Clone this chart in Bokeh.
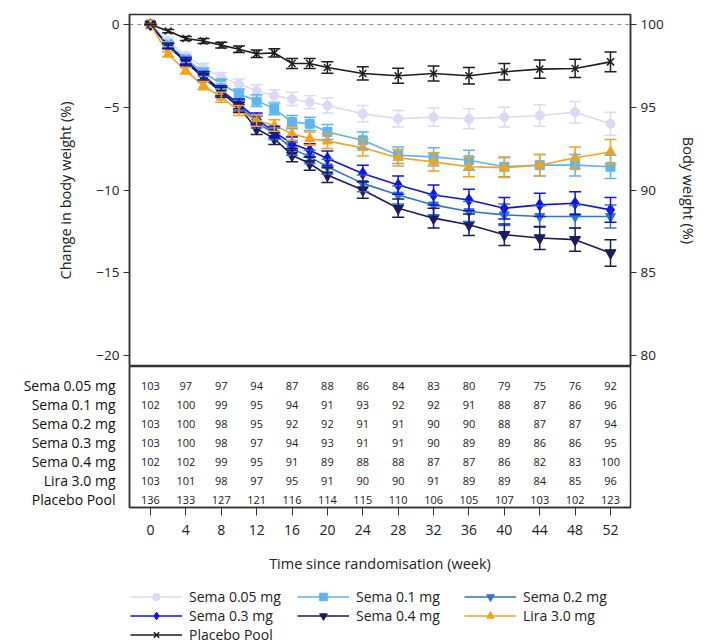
from bokeh.plotting import figure
from bokeh.models import (Range1d, LinearAxis, FixedTicker, Span, Whisker, TeeHead,
                          ColumnDataSource, Legend, LegendItem)
from bokeh.layouts import column
from bokeh.embed import file_html
from bokeh.resources import INLINE
from bokeh.core.properties import value

# ---------------- data ----------------
weeks = [0, 2, 4, 6, 8, 10, 12, 14, 16, 18, 20, 24, 28, 32, 36, 40, 44, 48, 52]

series_names = ["Sema 0.05 mg", "Sema 0.1 mg", "Sema 0.2 mg", "Sema 0.3 mg",
                "Sema 0.4 mg", "Lira 3.0 mg", "Placebo Pool"]

sema005 = [0, -1.0, -1.9, -2.6, -3.2, -3.6, -4.0, -4.3, -4.5, -4.7, -4.9, -5.4, -5.7, -5.6, -5.7, -5.6, -5.5, -5.3, -6.0]
sema01 = [0, -1.2, -2.1, -2.9, -3.6, -4.2, -4.6, -5.1, -5.9, -6.0, -6.5, -7.0, -7.9, -8.0, -8.2, -8.6, -8.5, -8.5, -8.6]
sema02 = [0, -1.3, -2.2, -3.1, -4.0, -4.9, -5.9, -6.6, -7.5, -8.0, -8.6, -9.6, -10.3, -10.9, -11.3, -11.5, -11.6, -11.6, -11.6]
sema03 = [0, -1.3, -2.2, -3.1, -4.0, -4.8, -5.7, -6.5, -7.2, -7.6, -8.1, -9.0, -9.7, -10.3, -10.6, -11.1, -10.9, -10.8, -11.2]
sema04 = [0, -1.3, -2.3, -3.2, -4.1, -5.0, -6.3, -6.9, -7.9, -8.4, -9.1, -10.0, -11.1, -11.7, -12.1, -12.7, -12.9, -13.0, -13.8]
lira = [0, -1.8, -2.8, -3.7, -4.4, -5.2, -5.8, -6.1, -6.6, -6.9, -7.05, -7.45, -8.05, -8.3, -8.6, -8.65, -8.5, -8.05, -7.7]
placebo = [0, -0.4, -0.85, -1.0, -1.25, -1.5, -1.77, -1.72, -2.36, -2.36, -2.6, -2.96, -3.1, -2.96, -3.1, -2.86, -2.7, -2.66, -2.26]

# standard errors (half-length of error bars)
se_sema005 = [0, 0.15, 0.2, 0.25, 0.3, 0.3, 0.35, 0.35, 0.4, 0.4, 0.45, 0.5, 0.5, 0.55, 0.6, 0.6, 0.65, 0.65, 0.7]
se_sema01 = [0, 0.15, 0.2, 0.25, 0.3, 0.3, 0.35, 0.35, 0.4, 0.4, 0.45, 0.5, 0.5, 0.55, 0.6, 0.6, 0.65, 0.65, 0.7]
se_sema02 = [0, 0.15, 0.2, 0.25, 0.3, 0.3, 0.35, 0.35, 0.4, 0.4, 0.45, 0.5, 0.55, 0.6, 0.6, 0.65, 0.65, 0.7, 0.7]
se_sema03 = [0, 0.15, 0.2, 0.25, 0.3, 0.3, 0.35, 0.35, 0.4, 0.4, 0.45, 0.5, 0.55, 0.6, 0.65, 0.65, 0.7, 0.7, 0.75]
se_sema04 = [0, 0.15, 0.2, 0.25, 0.3, 0.3, 0.35, 0.35, 0.4, 0.4, 0.45, 0.5, 0.55, 0.6, 0.65, 0.65, 0.7, 0.7, 0.8]
se_lira = [0, 0.15, 0.2, 0.25, 0.3, 0.3, 0.35, 0.35, 0.4, 0.4, 0.45, 0.5, 0.5, 0.55, 0.6, 0.6, 0.65, 0.65, 0.75]
se_placebo = [0, 0.1, 0.12, 0.15, 0.17, 0.2, 0.22, 0.25, 0.3, 0.3, 0.35, 0.4, 0.45, 0.45, 0.5, 0.5, 0.55, 0.55, 0.6]

table_weeks = [0, 4, 8, 12, 16, 20, 24, 28, 32, 36, 40, 44, 48, 52]
n_sema005 = [103, 97, 97, 94, 87, 88, 86, 84, 83, 80, 79, 75, 76, 92]
n_sema01 = [102, 100, 99, 95, 94, 91, 93, 92, 92, 91, 88, 87, 86, 96]
n_sema02 = [103, 100, 98, 95, 92, 92, 91, 91, 90, 90, 88, 87, 87, 94]
n_sema03 = [103, 100, 98, 97, 94, 93, 91, 91, 90, 89, 89, 86, 86, 95]
n_sema04 = [102, 102, 99, 95, 91, 89, 88, 88, 87, 87, 86, 82, 83, 100]
n_lira = [103, 101, 98, 97, 95, 91, 90, 90, 91, 89, 89, 84, 85, 96]
n_placebo = [136, 133, 127, 121, 116, 114, 115, 110, 106, 105, 107, 103, 102, 123]

left_ticks = [0, -5, -10, -15, -20]
right_ticks = [80, 85, 90, 95, 100]

# ---------------- styles ----------------
means = [sema005, sema01, sema02, sema03, sema04, lira, placebo]
ses = [se_sema005, se_sema01, se_sema02, se_sema03, se_sema04, se_lira, se_placebo]
counts = [n_sema005, n_sema01, n_sema02, n_sema03, n_sema04, n_lira, n_placebo]
colors = ["#dadaf5", "#5cb6ef", "#2a78c6", "#1212e8", "#1b1b62", "#f5a31a", "#1e1e1e"]
markers = ["circle", "square", "inverted_triangle", "diamond", "inverted_triangle", "triangle", "x"]
msizes = [9, 9, 10, 12, 11, 10, 10]

FONT = "Open Sans"
W = 725
INK = "#222222"

# ---------------- main plot ----------------
p = figure(width=W, height=366, x_range=Range1d(-2.37, 54.26), y_range=Range1d(-20.66, 0.6),
           output_backend="svg", toolbar_location=None, x_axis_location=None,
           min_border_left=129, min_border_right=95, min_border_top=14, min_border_bottom=0)
p.grid.visible = False
p.outline_line_color = "#333333"
p.outline_line_width = 1.5

p.yaxis.ticker = FixedTicker(ticks=left_ticks)
p.yaxis.axis_label = "Change in body weight (%)"

p.extra_y_ranges = {"bw": Range1d(100 - 20.66, 100.6)}
rax = LinearAxis(y_range_name="bw", ticker=FixedTicker(ticks=right_ticks),
                 axis_label="Body weight (%)")
p.add_layout(rax, "right")

for ax in [p.yaxis[0], rax]:
    ax.major_tick_in = 0
    ax.major_tick_out = 6
    ax.minor_tick_line_color = None
    ax.axis_line_color = "#333333"
    ax.axis_line_width = 1.5
    ax.major_tick_line_color = "#333333"
    ax.major_label_text_font = FONT
    ax.major_label_text_font_size = "13.5px"
    ax.major_label_text_color = INK
    ax.axis_label_text_font = FONT
    ax.axis_label_text_font_size = "14.5px"
    ax.axis_label_text_font_style = "normal"
    ax.axis_label_text_color = INK
    ax.major_label_standoff = 4
p.yaxis[0].axis_label_standoff = 18
rax.axis_label_standoff = 12

zero = Span(location=0, dimension="width", line_color="#888888", line_dash="4 4",
            line_width=1, level="underlay")
p.add_layout(zero)

for i in range(len(series_names)):
    m = means[i]
    s = ses[i]
    src = ColumnDataSource(dict(x=weeks, y=m,
                                upper=[a + b for a, b in zip(m, s)],
                                lower=[a - b for a, b in zip(m, s)]))
    c = colors[i]
    wh = Whisker(base="x", upper="upper", lower="lower", source=src, dimension="height",
                 line_color=c, line_width=1.5, level="glyph",
                 upper_head=TeeHead(size=12, line_color=c, line_width=1.5),
                 lower_head=TeeHead(size=12, line_color=c, line_width=1.5))
    p.add_layout(wh)
    p.line("x", "y", source=src, line_color=c, line_width=1.6)
    p.scatter("x", "y", source=src, marker=markers[i], size=msizes[i],
              fill_color=c, line_color=c, line_width=1.5 if markers[i] == "x" else 1)

# ---------------- table + x axis ----------------
t = figure(width=W, height=216, x_range=p.x_range, y_range=Range1d(6.42, -1.0),
           output_backend="svg", toolbar_location=None,
           min_border_left=129, min_border_right=95, min_border_top=0, min_border_bottom=75)
t.grid.visible = False
t.outline_line_color = "#333333"
t.outline_line_width = 1.5

t.yaxis.ticker = FixedTicker(ticks=list(range(len(series_names))))
t.yaxis.major_label_overrides = {i: n for i, n in enumerate(series_names)}
t.yaxis.major_tick_line_color = None
t.yaxis.minor_tick_line_color = None
t.yaxis.axis_line_color = "#333333"
t.yaxis.axis_line_width = 1.5
t.yaxis.major_label_text_font = FONT
t.yaxis.major_label_text_font_size = "14px"
t.yaxis.major_label_text_color = "#111111"
t.yaxis.major_label_standoff = 8

t.xaxis.ticker = FixedTicker(ticks=table_weeks)
t.xaxis.axis_label = "Time since randomisation (week)"
t.xaxis.major_tick_in = 0
t.xaxis.major_tick_out = 8
t.xaxis.minor_tick_line_color = None
t.xaxis.axis_line_color = "#333333"
t.xaxis.axis_line_width = 1.5
t.xaxis.major_tick_line_color = "#333333"
t.xaxis.major_label_text_font = FONT
t.xaxis.major_label_text_font_size = "14px"
t.xaxis.major_label_text_color = INK
t.xaxis.major_label_standoff = 9
t.xaxis.axis_label_text_font = FONT
t.xaxis.axis_label_text_font_size = "14.5px"
t.xaxis.axis_label_text_font_style = "normal"
t.xaxis.axis_label_text_color = INK
t.xaxis.axis_label_standoff = 16

for i, cnt in enumerate(counts):
    tsrc = ColumnDataSource(dict(x=table_weeks, y=[i] * len(table_weeks),
                                 txt=[str(v) for v in cnt]))
    t.text("x", "y", text="txt", source=tsrc, text_align="center", text_baseline="middle",
           text_font=value(FONT), text_font_size="11px", text_color=INK)

# ---------------- legend (separate strip) ----------------
lg = figure(width=W, height=62, x_range=Range1d(-1000, -990), y_range=Range1d(-1000, -990),
            output_backend="svg", toolbar_location=None,
            x_axis_location=None, y_axis_location=None,
            min_border_left=129, min_border_right=95, min_border_top=0, min_border_bottom=0)
lg.grid.visible = False
lg.outline_line_color = None

items = []
for i in range(len(series_names)):
    lsrc = ColumnDataSource(dict(x=weeks, y=means[i]))
    c = colors[i]
    lr = lg.line("x", "y", source=lsrc, line_color=c, line_width=1.6)
    sr = lg.scatter("x", "y", source=lsrc, marker=markers[i], size=msizes[i] - 1,
                    fill_color=c, line_color=c, line_width=1.5 if markers[i] == "x" else 1)
    items.append(LegendItem(label=series_names[i], renderers=[lr, sr]))

# the strip's frame spans the same width as the plots above (x = 129..630)
legend = Legend(items=items, orientation="horizontal", nrows=3, location=(1, 0),
                border_line_color=None, background_fill_alpha=0,
                label_text_font=FONT, label_text_font_size="14px", label_text_color=INK,
                glyph_width=52, glyph_height=19, label_height=19, label_standoff=7,
                label_width=108, spacing=0, padding=0, margin=0, click_policy="none")
lg.add_layout(legend)

layout = column(p, t, lg, spacing=0)
open("out.html", "w").write(file_html(layout, INLINE))
